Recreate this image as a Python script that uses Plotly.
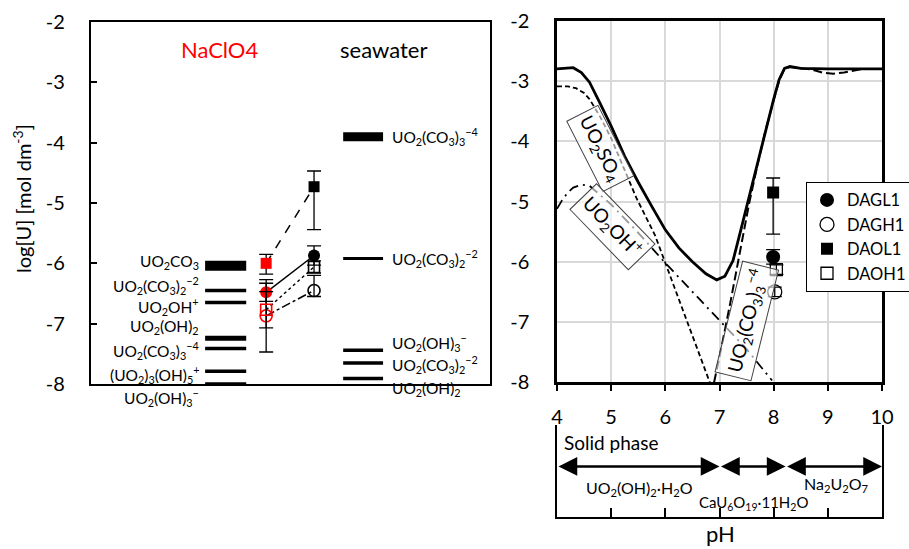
import plotly.graph_objects as go

# ---------------- data ----------------
# Left panel: predicted dominant species, log[U] (mol dm^-3)
nacl_species = [
    "UO<sub>2</sub>CO<sub>3</sub>",
    "UO<sub>2</sub>(CO<sub>3</sub>)<sub>2</sub><sup>−2</sup>",
    "UO<sub>2</sub>OH<sup>+</sup>",
    "UO<sub>2</sub>(OH)<sub>2</sub>",
    "UO<sub>2</sub>(CO<sub>3</sub>)<sub>3</sub><sup>−4</sup>",
    "(UO<sub>2</sub>)<sub>3</sub>(OH)<sub>5</sub><sup>+</sup>",
    "UO<sub>2</sub>(OH)<sub>3</sub><sup>−</sup>",
]
nacl_logc = [-6.04, -6.45, -6.65, -7.24, -7.41, -7.79, -8.00]

sea_species = [
    "UO<sub>2</sub>(CO<sub>3</sub>)<sub>3</sub><sup>−4</sup>",
    "UO<sub>2</sub>(CO<sub>3</sub>)<sub>2</sub><sup>−2</sup>",
    "UO<sub>2</sub>(OH)<sub>3</sub><sup>−</sup>",
    "UO<sub>2</sub>(CO<sub>3</sub>)<sub>2</sub><sup>−2</sup>",
    "UO<sub>2</sub>(OH)<sub>2</sub>",
]
sea_logc = [-3.90, -5.92, -7.44, -7.65, -7.91]

# Measured solubilities (left panel: NaClO4 vs seawater)
series_names = ["DAGL1", "DAGH1", "DAOL1", "DAOH1"]
nacl_u = [-6.48, -6.87, -6.00, -6.77]
nacl_err_plus = [0.15, 0.60, 0.15, 0.30]
nacl_err_minus = [0.15, 0.60, 0.18, 0.30]
sea_u = [-5.87, -6.45, -4.73, -6.06]
sea_err_plus = [0.16, 0.25, 0.26, 0.10]
sea_err_minus = [0.16, 0.10, 0.71, 0.10]

# Right panel: measured points in seawater
ph_meas = [7.99, 8.02, 7.99, 8.05]
u_meas = [-5.92, -6.50, -4.85, -6.13]
meas_err_plus = [0.12, 0.08, 0.24, 0.08]
meas_err_minus = [0.12, 0.08, 0.69, 0.08]

# Right panel: calculated curves
ph_total = [4.0, 4.15, 4.3, 4.45, 4.6, 4.8, 5.0, 5.25, 5.5, 5.75, 6.0, 6.25, 6.5, 6.75,
            6.95, 7.1, 7.25, 7.4, 7.55, 7.7, 7.85, 8.0, 8.1, 8.2, 8.3, 8.5, 9.0, 10.0]
u_total = [-2.80, -2.79, -2.78, -2.86, -3.02, -3.38, -3.75, -4.25, -4.68, -5.08, -5.47, -5.77,
           -6.00, -6.20, -6.30, -6.24, -5.98, -5.45, -4.90, -4.35, -3.80, -3.30, -2.98, -2.79,
           -2.76, -2.79, -2.80, -2.80]

ph_so4 = [4.0, 4.2, 4.35, 4.5, 4.6, 4.8, 5.0, 5.47, 5.81, 6.2, 6.5, 6.82]
u_so4 = [-3.09, -3.09, -3.12, -3.20, -3.30, -3.60, -3.95, -4.95, -5.56, -6.50, -7.25, -8.00]

ph_oh = [4.0, 4.1, 4.2, 4.3, 4.45, 4.6, 5.0, 5.5, 6.0, 6.5, 7.0, 7.5, 7.97]
u_oh = [-5.12, -4.97, -4.85, -4.77, -4.72, -4.74, -5.05, -5.52, -6.02, -6.50, -6.98, -7.45, -7.97]

ph_co3 = [6.9, 7.0, 7.2, 7.4, 7.55, 7.7, 7.85, 8.0, 8.1, 8.2, 8.3, 8.5, 8.7, 8.9, 9.1, 9.3,
          9.5, 9.65, 10.0]
u_co3 = [-8.00, -7.58, -6.68, -5.75, -5.02, -4.40, -3.82, -3.32, -3.00, -2.80, -2.77, -2.79,
         -2.81, -2.86, -2.88, -2.86, -2.82, -2.80, -2.80]

# Solid phase regions
phase_bounds = [4.0, 7.0, 8.22, 10.0]
phase_labels = ["UO<sub>2</sub>(OH)<sub>2</sub>·H<sub>2</sub>O",
                "CaU<sub>6</sub>O<sub>19</sub>·11H<sub>2</sub>O",
                "Na<sub>2</sub>U<sub>2</sub>O<sub>7</sub>"]

y_ticks = [-2, -3, -4, -5, -6, -7, -8]
y_tick_text = ["-2", "-3", "-4", "-5", "-6", "-7", "-8"]
x_ticks = [4, 5, 6, 7, 8, 9, 10]

# ---------------- layout / style ----------------
FONT = "Lato"
W, H = 909, 549
Y_RANGE = [-8, -2]
LEFT_YDOM = [(H - 384) / H, (H - 22) / H]


def y_to_paper(v):
    """Map a left-panel log[U] value to paper coordinates (for labels outside the range)."""
    return LEFT_YDOM[0] + (v - Y_RANGE[0]) / (Y_RANGE[1] - Y_RANGE[0]) * (LEFT_YDOM[1] - LEFT_YDOM[0])


nacl_bar_x = [28.6, 38.9]
sea_bar_x = [63.2, 73.2]
nacl_bar_w = [10, 3.5, 3.5, 5, 3.5, 3.5, 3.5]
sea_bar_w = [9, 3, 3.5, 3.5, 3.5]
nacl_label_y = [-5.98, -6.36, -6.71, -7.05, -7.44, -7.85, -8.23]
sea_label_y = [-3.90, -5.92, -7.32, -7.68, -8.08]
x_nacl_pts, x_sea_pts = 43.9, 55.9

symbols = ["circle", "circle-open", "square", "square-open"]
filled = [True, False, True, False]
sizes_left = [12, 12, 11, 11]
sizes_right = [14, 14, 12, 12]
dashes = ["solid", "dashdot", "dash", "dot"]

fig = go.Figure()

# species bars
for v, w in zip(nacl_logc, nacl_bar_w):
    fig.add_trace(go.Scatter(x=nacl_bar_x, y=[v, v], mode="lines",
                             line=dict(color="black", width=w), showlegend=False,
                             hoverinfo="skip", xaxis="x", yaxis="y"))
for v, w in zip(sea_logc, sea_bar_w):
    fig.add_trace(go.Scatter(x=sea_bar_x, y=[v, v], mode="lines",
                             line=dict(color="black", width=w), showlegend=False,
                             hoverinfo="skip", xaxis="x", yaxis="y"))

# measured left panel
for i, name in enumerate(series_names):
    cols = ["red", "black"]
    fig.add_trace(go.Scatter(
        x=[x_nacl_pts, x_sea_pts], y=[nacl_u[i], sea_u[i]], mode="lines+markers",
        line=dict(color="black", width=1.5, dash=dashes[i]),
        marker=dict(symbol=symbols[i], size=sizes_left[i], color=cols,
                    line=dict(color=cols, width=1.6 if not filled[i] else 0)),
        error_y=dict(type="data", symmetric=False,
                     array=[nacl_err_plus[i], sea_err_plus[i]],
                     arrayminus=[nacl_err_minus[i], sea_err_minus[i]],
                     color="black", thickness=1.3, width=7),
        showlegend=False, xaxis="x", yaxis="y"))

# right panel curves
fig.add_trace(go.Scatter(x=ph_so4, y=u_so4, mode="lines", line=dict(color="black", width=1.8, dash="5px,3px"),
                         showlegend=False, xaxis="x2", yaxis="y2"))
fig.add_trace(go.Scatter(x=ph_oh, y=u_oh, mode="lines", line=dict(color="black", width=1.8, dash="10px,5px,2px,5px"),
                         showlegend=False, xaxis="x2", yaxis="y2"))
fig.add_trace(go.Scatter(x=ph_co3, y=u_co3, mode="lines", line=dict(color="black", width=2, dash="9px,4px"),
                         showlegend=False, xaxis="x2", yaxis="y2"))
fig.add_trace(go.Scatter(x=ph_total, y=u_total, mode="lines", line=dict(color="black", width=2.8),
                         showlegend=False, xaxis="x2", yaxis="y2"))

# right panel measured points
for i, name in enumerate(series_names):
    fig.add_trace(go.Scatter(
        x=[ph_meas[i]], y=[u_meas[i]], mode="markers", name=name,
        marker=dict(symbol=symbols[i], size=sizes_right[i], color="black",
                    line=dict(color="black", width=1.3 if not filled[i] else 0)),
        error_y=dict(type="data", symmetric=False, array=[meas_err_plus[i]],
                     arrayminus=[meas_err_minus[i]], color="black", thickness=1.3, width=7),
        xaxis="x2", yaxis="y2"))

ann = []
lab_font = dict(size=15.5, family=FONT, color="black")
for txt, y in zip(nacl_species, nacl_label_y):
    ann.append(dict(x=27.6, y=y_to_paper(y), xref="x", yref="paper", text=txt, showarrow=False,
                    xanchor="right", yanchor="middle", font=lab_font))
for txt, y in zip(sea_species, sea_label_y):
    ann.append(dict(x=74.9, y=y_to_paper(y), xref="x", yref="paper", text=txt, showarrow=False,
                    xanchor="left", yanchor="middle", font=lab_font))
ann.append(dict(x=32.3, y=-2.46, xref="x", yref="y", text="NaClO4", showarrow=False,
                xanchor="center", yanchor="middle", font=dict(size=22, family=FONT, color="red")))
ann.append(dict(x=73.4, y=-2.46, xref="x", yref="y", text="seawater", showarrow=False,
                xanchor="center", yanchor="middle", font=dict(size=22, family=FONT, color="black")))
ann.append(dict(x=22 / W, y=(H - 199) / H, xref="paper", yref="paper",
                text="log[U] [mol dm<sup>-3</sup>]", textangle=-90, showarrow=False,
                xanchor="center", yanchor="middle", font=dict(size=20, family=FONT, color="black")))

# boxed species labels on right panel
box = dict(showarrow=False, bordercolor="#404040", borderwidth=1, borderpad=4,
           bgcolor="rgba(255,255,255,0.6)", xref="x2", yref="y2", xanchor="center", yanchor="middle")
ann.append(dict(x=4.79, y=-4.12, text="UO<sub>2</sub>SO<sub>4</sub>", textangle=63,
                font=dict(size=19, family=FONT, color="black"), **box))
ann.append(dict(x=5.03, y=-5.42, text="UO<sub>2</sub>OH<sup>+</sup>", textangle=46,
                font=dict(size=19, family=FONT, color="black"), **box))
ann.append(dict(x=7.51, y=-6.99, text="UO<sub>2</sub>(CO<sub>3</sub>)<sub>3</sub><sup>−4</sup>",
                textangle=-76, font=dict(size=19, family=FONT, color="black"), **box))

# solid phase arrows
for a, b in zip(phase_bounds[:-1], phase_bounds[1:]):
    ann.append(dict(x=b, y=0.55, ax=a, ay=0.55, xref="x4", yref="y3", axref="x4", ayref="y3",
                    text="", showarrow=True, arrowhead=2, arrowside="end+start", arrowsize=1.5,
                    arrowwidth=2.5, arrowcolor="black", standoff=0, startstandoff=0))
ann.append(dict(x=4.1, y=0.81, xref="x4", yref="y3", text="Solid phase", showarrow=False,
                xanchor="left", yanchor="middle", font=dict(size=19, family=FONT, color="black")))
ann.append(dict(x=5.53, y=0.31, xref="x4", yref="y3", text=phase_labels[0], showarrow=False,
                xanchor="center", yanchor="middle", font=dict(size=16, family=FONT, color="black")))
ann.append(dict(x=7.62, y=0.15, xref="x4", yref="y3", text=phase_labels[1], showarrow=False,
                xanchor="center", yanchor="middle", font=dict(size=15, family=FONT, color="black")))
ann.append(dict(x=9.16, y=0.35, xref="x4", yref="y3", text=phase_labels[2], showarrow=False,
                xanchor="center", yanchor="middle", font=dict(size=16, family=FONT, color="black")))
ann.append(dict(x=720 / W, y=(H - 533) / H, xref="paper", yref="paper", text="pH", showarrow=False,
                xanchor="center", yanchor="middle", font=dict(size=22, family=FONT, color="black")))

tickfont = dict(size=20, family=FONT, color="black")
fig.update_layout(
    width=W, height=H, margin=dict(l=0, r=0, t=0, b=0, autoexpand=False),
    paper_bgcolor="white", plot_bgcolor="white",
    font=dict(family=FONT, color="black"),
    annotations=ann,
    xaxis=dict(domain=[91 / W, 490 / W], range=[0, 100], showline=True, mirror=True,
               linecolor="black", linewidth=2, showticklabels=False, ticks="", showgrid=False,
               zeroline=False, anchor="y"),
    yaxis=dict(domain=LEFT_YDOM, range=Y_RANGE, showline=True, mirror=True,
               linecolor="black", linewidth=2.2, ticks="inside", ticklen=6, tickwidth=2,
               tickcolor="black", tickvals=y_ticks, ticktext=y_tick_text, tickfont=tickfont,
               ticklabelstandoff=20, showgrid=False, zeroline=False, anchor="x"),
    xaxis2=dict(domain=[557 / W, 882 / W], range=[4, 10], showline=True, mirror=True,
                linecolor="black", linewidth=2.5, ticks="outside", ticklen=6, tickwidth=1.5,
                tickcolor="black", tickvals=x_ticks, tickfont=tickfont, showgrid=True,
                gridcolor="#d9d9d9", gridwidth=1.5, zeroline=False, anchor="y2",
                ticklabelstandoff=9),
    yaxis2=dict(domain=[(H - 382.3) / H, (H - 20.7) / H], range=Y_RANGE, showline=True,
                mirror=True, linecolor="black", linewidth=2.5, ticks="", tickvals=y_ticks,
                ticktext=y_tick_text, tickfont=tickfont, showgrid=True, gridcolor="#d9d9d9",
                gridwidth=1.5, zeroline=False, anchor="x2", ticklabelstandoff=21),
    xaxis3=dict(overlaying="x2", anchor="y2", range=[4, 10], ticks="inside", ticklen=9,
                tickwidth=1.5, tickcolor="black", tickvals=x_ticks, showticklabels=False,
                showgrid=False, zeroline=False, showline=False),
    xaxis4=dict(domain=[557 / W, 882 / W], range=[4, 10], anchor="y3", showline=True,
                linecolor="black", linewidth=2, ticks="inside", ticklen=9, tickwidth=1.5,
                tickcolor="black", tickvals=x_ticks, showticklabels=False, showgrid=False,
                zeroline=False),
    yaxis3=dict(domain=[(H - 517) / H, (H - 425) / H], range=[0, 1], anchor="x4", showline=True,
                mirror=True, linecolor="black", linewidth=2, ticks="", showticklabels=False,
                showgrid=False, zeroline=False),
    legend=dict(x=806 / W, y=(H - 181.7) / H, xanchor="left", yanchor="top",
                bordercolor="black", borderwidth=1, bgcolor="white",
                font=dict(size=16.5, family=FONT, color="black"), tracegroupgap=0,
                itemwidth=30),
)

fig.write_html("out.html")
